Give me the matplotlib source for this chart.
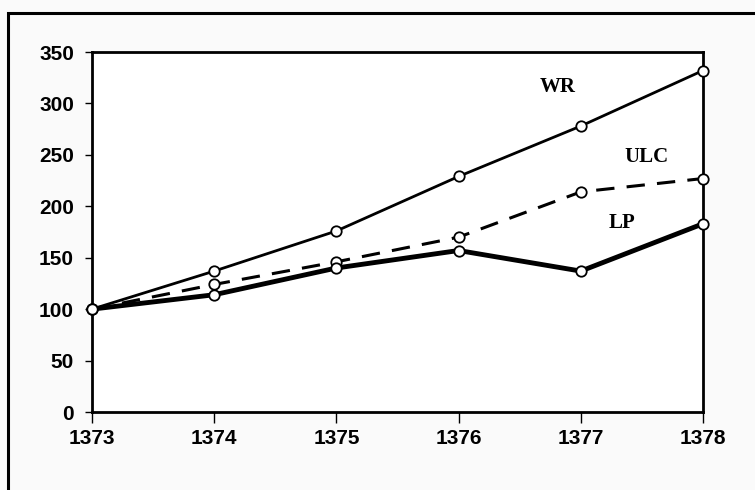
import matplotlib
matplotlib.use("Agg")
import matplotlib.pyplot as plt
from matplotlib.patches import Rectangle

years = [1373, 1374, 1375, 1376, 1377, 1378]
wr = [100, 137, 176, 229, 278, 332]
ulc = [100, 124, 146, 170, 214, 227]
lp = [100, 114, 140, 157, 137, 183]
y_ticks = [0, 50, 100, 150, 200, 250, 300, 350]

fig = plt.figure(figsize=(7.55, 4.9), dpi=100)
fig.patch.set_facecolor('#fafafa')
# outer frame (cut off at right and bottom like the source)
fig.add_artist(Rectangle((8 / 755, -0.1), 1.2, 1 - 13 / 490 + 0.1,
                         transform=fig.transFigure, fill=False,
                         edgecolor='black', linewidth=2.2))

ax = fig.add_axes([92 / 755, 1 - 412 / 490, 611 / 755, 360 / 490])
ax.set_facecolor('white')

mk = dict(marker='o', markersize=7.5, markerfacecolor='white',
          markeredgecolor='black', markeredgewidth=1.3, clip_on=False)
ax.plot(years, wr, color='black', linewidth=2.0, **mk, zorder=3)
ax.plot(years, ulc, color='black', linewidth=2.2, dashes=(6, 4), **mk, zorder=3)
ax.plot(years, lp, color='black', linewidth=3.5, **mk, zorder=3)

lab = dict(fontfamily='Liberation Serif', fontweight='bold', fontsize=15,
           ha='center', va='center')
ax.text(1376.81, 316, 'WR', **lab)
ax.text(1377.54, 248, 'ULC', **lab)
ax.text(1377.34, 184, 'LP', **lab)

ax.set_xlim(1373, 1378)
ax.set_ylim(0, 350)
ax.set_xticks(years)
ax.set_yticks(y_ticks)
for s in ax.spines.values():
    s.set_linewidth(2.0)
ax.tick_params(axis='y', direction='out', length=5, width=1, pad=8)
ax.tick_params(axis='x', direction='out', length=8, width=1, pad=4)
for t in ax.get_xticklabels() + ax.get_yticklabels():
    t.set_fontfamily(['Liberation Sans Narrow', 'Liberation Sans'])
    t.set_fontweight('bold')
    t.set_fontsize(15)

fig.savefig('out.png', dpi=100, facecolor=fig.get_facecolor())
